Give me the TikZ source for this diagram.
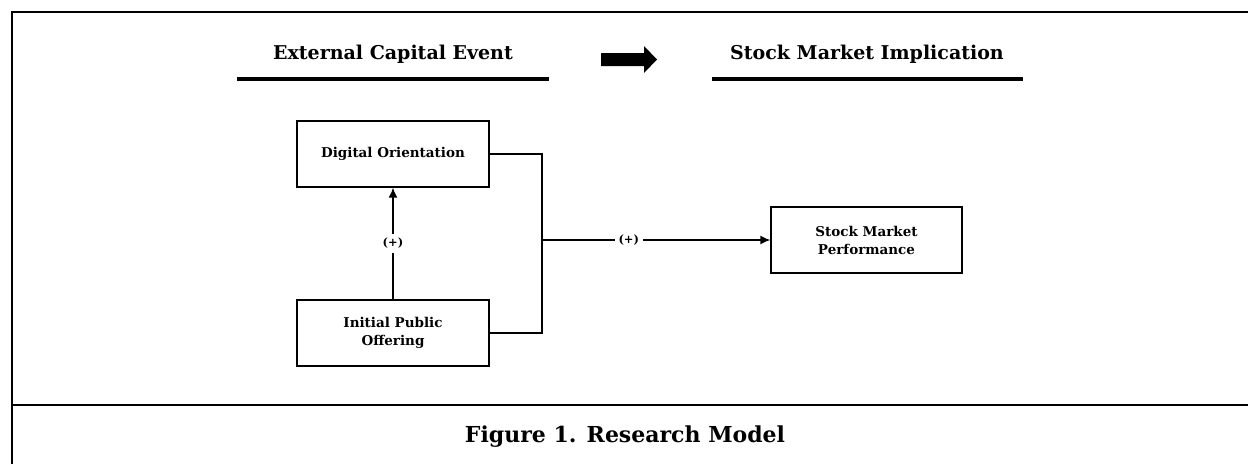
\documentclass[tikz,border=0pt]{standalone}
\usepackage{fontspec}
\setmainfont{DejaVu Serif}
\usetikzlibrary{arrows.meta}
\begin{document}
\begin{tikzpicture}[x=1pt,y=-1pt,
  box/.style={draw,line width=1.4pt,minimum width=192pt,minimum height=66pt,align=center,inner sep=0pt,font=\fontsize{13.5}{18}\selectfont\bfseries},
  conn/.style={line width=1.4pt},
  arr/.style={conn,-{Latex[length=10pt,width=9pt]}},
  lbl/.style={fill=white,inner sep=4pt,font=\fontsize{11.5}{13}\selectfont\bfseries},
  head/.style={font=\fontsize{19}{22}\selectfont\bfseries,anchor=base},
  uline/.style={line width=4pt}]
\useasboundingbox (0,0) rectangle (1248,464);
% frame
\draw[line width=2.6pt] (12,464) -- (12,12) -- (1248,12);
\draw[line width=2.6pt] (12,405) -- (1248,405);
% headers
\node[head] (h1) at (393,59) {External Capital Event};
\node[head] (h2) at (867,59) {Stock Market Implication};
\draw[uline] (237,79) -- (549,79);
\draw[uline] (712,79) -- (1023,79);
\fill (601,53) -- (644,53) -- (644,46) -- (657,59.5) -- (644,73) -- (644,66) -- (601,66) -- cycle;
% boxes
\node[box] (do) at (393,154) {Digital Orientation};
\node[box] (ipo) at (393,333) {Initial Public\\Offering};
\node[box,minimum width=191pt] (smp) at (866.5,240) {Stock Market\\Performance};
\coordinate (jt) at (542,154);
\coordinate (jb) at (542,333);
\coordinate (jm) at (542,240);
\draw[conn] (do.east) -- (jt) -- (jb) -- (ipo.east);
\draw[arr] (jm) -- node[lbl,pos=0.38] {(+)} (smp.west);
\draw[arr] (ipo.north) -- node[lbl,pos=0.5] {(+)} (do.south);
% caption
\node[font=\fontsize{22}{26}\selectfont\bfseries,anchor=base] (cap) at (625,442) {Figure 1. Research Model};
\end{tikzpicture}
\end{document}
